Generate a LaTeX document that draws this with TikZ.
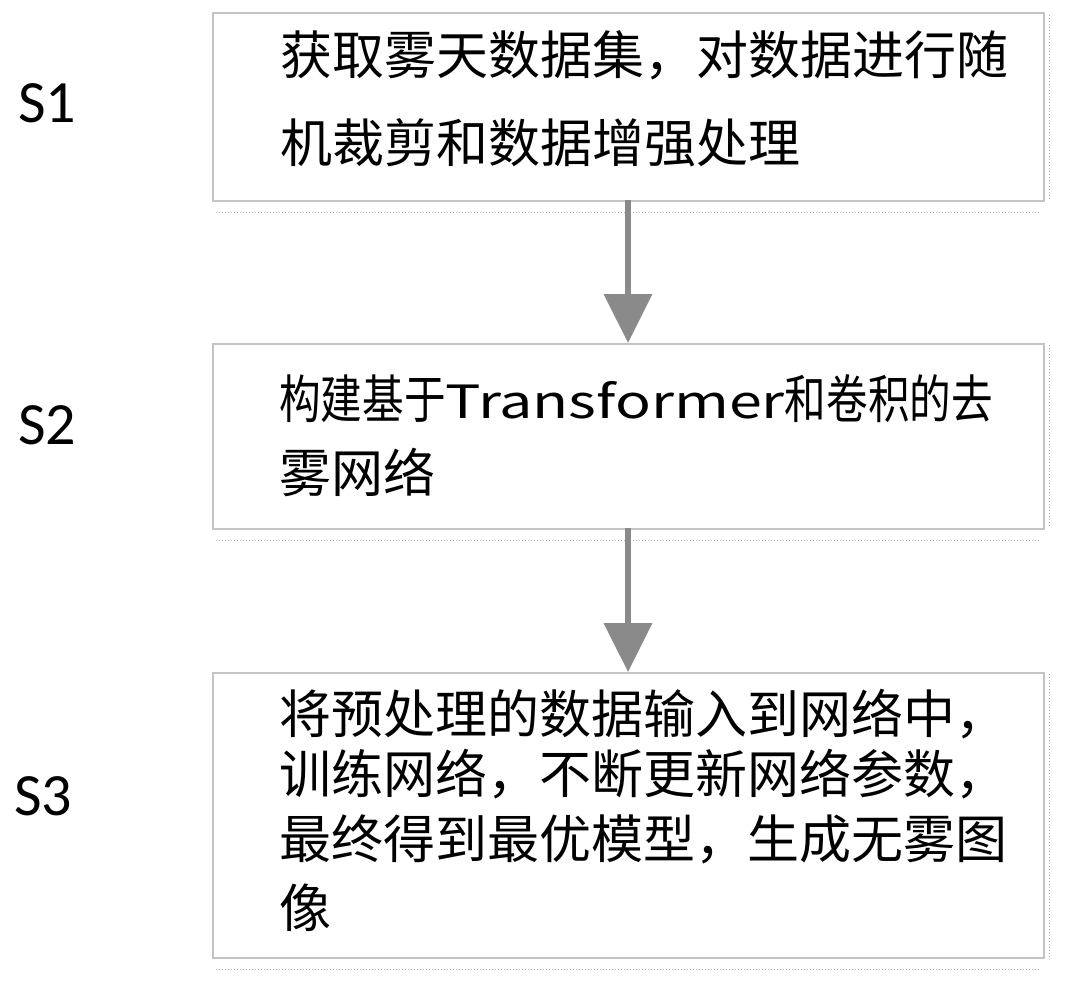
\documentclass[tikz,border=0pt]{standalone}
\usepackage{fontspec}
\setmainfont{Carlito}
\newfontfamily\cjk{Noto Sans CJK SC}
\usetikzlibrary{arrows.meta}
\definecolor{boxline}{HTML}{C4C4C4}
\definecolor{arrowgray}{HTML}{8A8A8A}
\definecolor{noise}{HTML}{B0B0B0}
\begin{document}
\begin{tikzpicture}[x=1pt,y=-1pt,
  stepbox/.style={draw=boxline,line width=2pt,fill=white,minimum width=831pt,anchor=north west,inner sep=0pt},
  line/.style={anchor=base west,inner sep=0pt,font=\cjk\fontsize{52}{52}\selectfont},
  steplabel/.style={anchor=base west,inner sep=0pt,font=\fontsize{60}{60}\selectfont},
  flow/.style={draw=arrowgray,line width=6.5pt,-{Triangle[width=47pt,length=49pt]}},
  speck/.style={draw=noise,line width=1pt,dotted}]
\useasboundingbox (0,0) rectangle (1065,993);
\fill[white] (0,0) rectangle (1065,993);
% boxes
\node[stepbox,minimum height=188pt] (b1) at (212,12) {};
\node[stepbox,minimum height=185pt] (b2) at (212,343) {};
\node[stepbox,minimum height=285pt] (b3) at (212,672) {};
% scan specks
\foreach \y in {212,540,969}{
  \draw[speck] (216,\y) -- (1040,\y);
}
\foreach \a/\b in {15/200,345/528,674/957}{
  \draw[speck] (1049,\a) -- (1049,\b);
}
% labels
\node[steplabel] (s1) at (18,122) {S1};
\node[steplabel] (s2) at (18,444) {S2};
\node[steplabel] (s3) at (14,815) {S3};
% texts
\node[line] (t11) at (280,74) {获取雾天数据集，对数据进行随};
\node[line] (t12) at (280,162) {机裁剪和数据增强处理};
\node[line] (t21) at (279,418) {\scalebox{0.8}[1]{构建基于}\scalebox{1.14}[0.88]{Transformer}\scalebox{0.8}[1]{和卷积的去}};
\node[line] (t22) at (279,492) {雾网络};
\node[line] (t31) at (279,733) {将预处理的数据输入到网络中，};
\node[line] (t32) at (279,793) {训练网络，不断更新网络参数，};
\node[line] (t33) at (279,858) {最终得到最优模型，生成无雾图};
\node[line] (t34) at (279,927) {像};
% arrows
\coordinate (a1s) at (628,200);
\coordinate (a1e) at (628,343);
\coordinate (a2s) at (628,528);
\coordinate (a2e) at (628,672);
\draw[flow] (a1s) -- (a1e);
\draw[flow] (a2s) -- (a2e);
\end{tikzpicture}
\end{document}
